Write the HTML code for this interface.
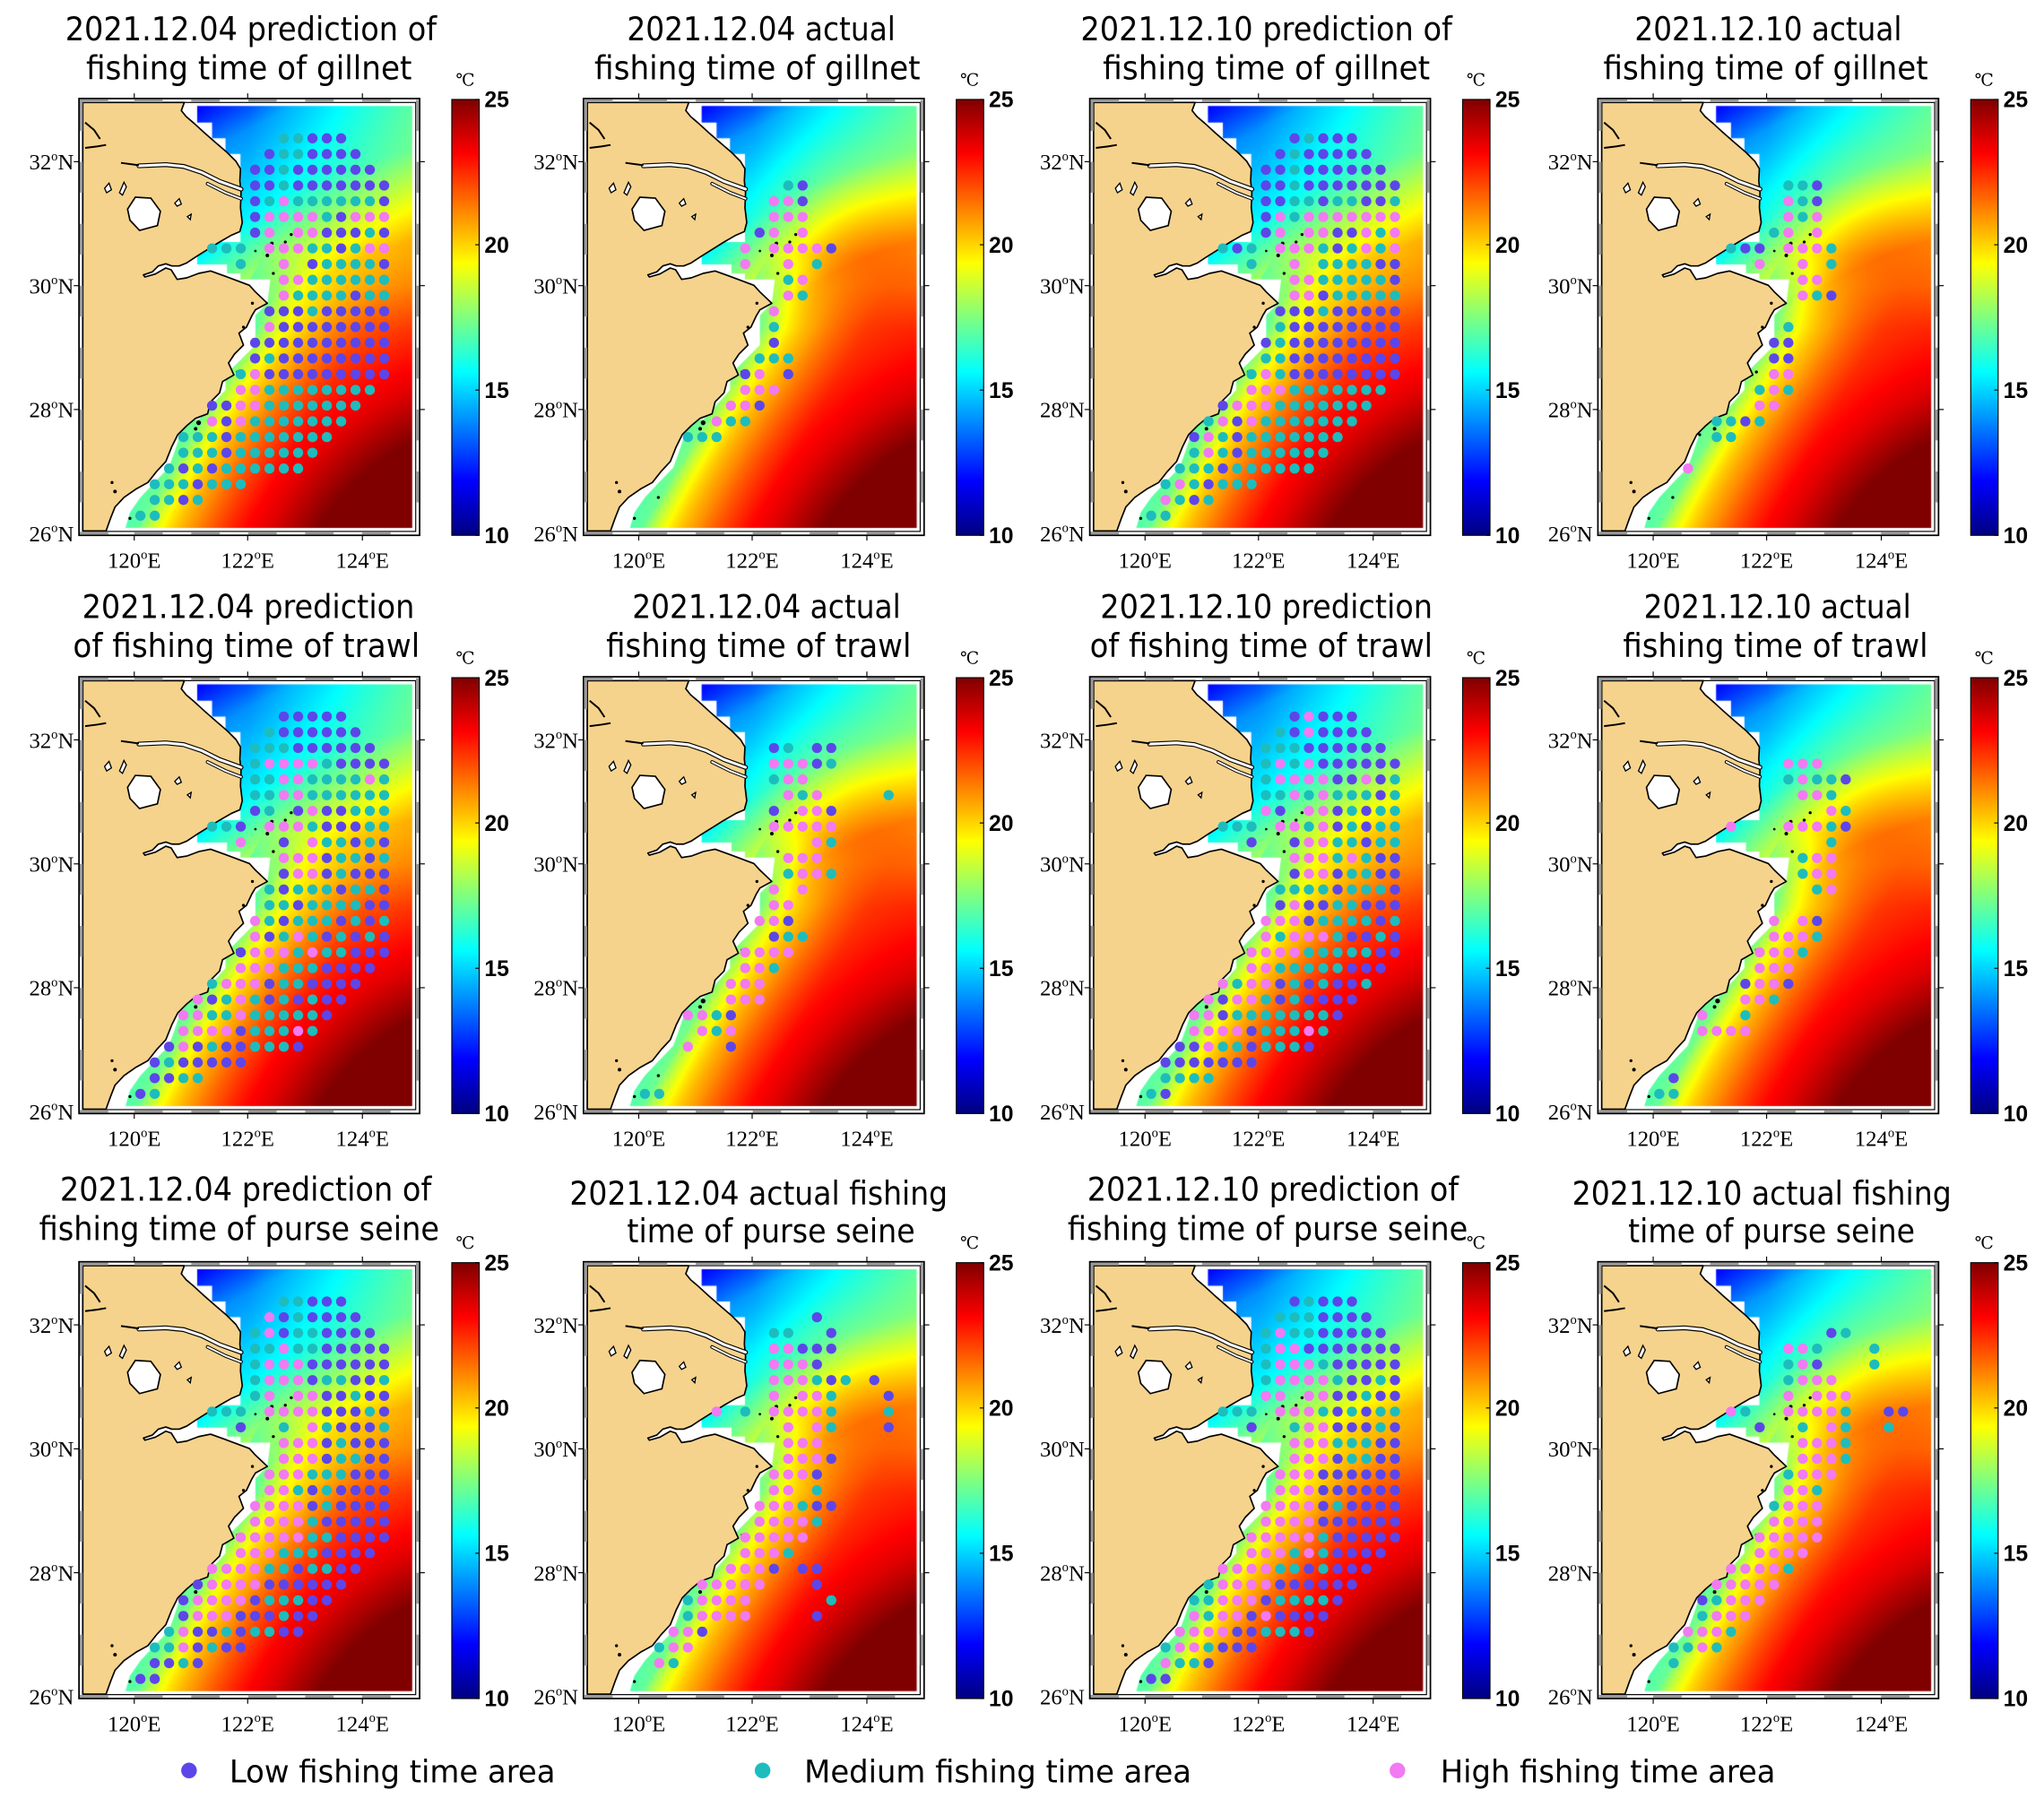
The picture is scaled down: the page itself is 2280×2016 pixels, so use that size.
<!DOCTYPE html>
<html><head><meta charset="utf-8">
<style>
html,body{margin:0;padding:0;background:#fff;width:2280px;height:2016px;overflow:hidden}
#c{position:absolute;left:0;top:0;width:2280px;height:2016px}
#s{position:absolute;left:0;top:0}
</style></head>
<body>
<canvas id="c" width="2280" height="2016"></canvas>
<svg id="s" width="2280" height="2016" viewBox="0 0 1568 1386" preserveAspectRatio="none" xmlns="http://www.w3.org/2000/svg">
<defs>
<linearGradient id="jet" x1="0" y1="1" x2="0" y2="0">
<stop offset="0" stop-color="#000080"/>
<stop offset="0.125" stop-color="#0000ff"/>
<stop offset="0.375" stop-color="#00ffff"/>
<stop offset="0.625" stop-color="#ffff00"/>
<stop offset="0.875" stop-color="#ff0000"/>
<stop offset="1" stop-color="#800000"/>
</linearGradient>
<g id="land">
<path fill="#f6d38c" stroke="#000" stroke-width="5" stroke-linejoin="round" d="M22,28 L362,28 L352,55 L368,75 L395,98 L430,130 L470,165 L505,195 L535,225 L550,250 L548,290 L552,330 L550,380 L556,430 L548,460 L520,472 L480,495 L440,520 L400,545 L370,565 L345,575 L320,575 L300,568 L275,575 L255,595 L225,605 L230,612 L265,602 L300,582 L318,588 L338,620 L370,615 L410,600 L450,592 L500,610 L540,625 L580,640 L600,662 L640,700 L600,722 L588,742 L570,780 L545,800 L560,840 L530,870 L510,900 L528,940 L490,962 L480,1000 L450,1030 L440,1070 L400,1085 L370,1110 L340,1140 L320,1180 L300,1230 L270,1262 L240,1300 L200,1322 L160,1350 L130,1382 L115,1420 L100,1462 L22,1462 Z"/>
<path fill="none" stroke="#000" stroke-width="16" stroke-linecap="round" d="M552,318 L480,292 L420,262 L360,242 L300,236 L210,240"/>
<path fill="none" stroke="#fff" stroke-width="9" stroke-linecap="round" d="M552,318 L480,292 L420,262 L360,242 L300,236 L210,240"/>
<path fill="none" stroke="#000" stroke-width="12" stroke-linecap="round" d="M552,350 L500,330 L440,300"/>
<path fill="none" stroke="#fff" stroke-width="6" stroke-linecap="round" d="M552,350 L500,330 L440,300"/>
<path fill="#fff" stroke="#000" stroke-width="5" d="M172,385 L198,345 L250,348 L282,392 L272,440 L212,456 L180,422 Z"/>
<path fill="#fff" stroke="#000" stroke-width="4" d="M95,315 L110,298 L118,320 L102,330 Z M145,330 L160,295 L168,310 L155,338 Z M330,365 L345,350 L352,368 L338,375 Z M372,410 L385,402 L382,420 Z"/>
<path fill="none" stroke="#000" stroke-width="6" d="M100,170 L70,175 L30,180 M30,95 L60,120 L80,150 M210,238 L150,230"/>
<g fill="#000">
<circle cx="655" cy="500" r="6"/><circle cx="700" cy="495" r="5"/><circle cx="720" cy="470" r="5"/><circle cx="640" cy="540" r="6"/><circle cx="600" cy="525" r="4"/><circle cx="700" cy="610" r="4"/><circle cx="660" cy="600" r="5"/><circle cx="590" cy="700" r="5"/><circle cx="560" cy="780" r="5"/><circle cx="540" cy="930" r="5"/><circle cx="410" cy="1100" r="8"/><circle cx="400" cy="1120" r="6"/><circle cx="350" cy="1140" r="5"/><circle cx="260" cy="1350" r="5"/><circle cx="180" cy="1420" r="5"/><circle cx="130" cy="1330" r="6"/><circle cx="120" cy="1300" r="5"/>
</g>
</g>
</defs>
<g id="panels"></g>
<g font-family="'DejaVu Sans','Liberation Sans',sans-serif" font-size="25" fill="#000">
<text x="50" y="31" textLength="285" lengthAdjust="spacingAndGlyphs">2021.12.04 prediction of</text>
<text x="66" y="61" textLength="250" lengthAdjust="spacingAndGlyphs">fishing time of gillnet</text>
<text x="481" y="31" textLength="206" lengthAdjust="spacingAndGlyphs">2021.12.04 actual</text>
<text x="456" y="61" textLength="250" lengthAdjust="spacingAndGlyphs">fishing time of gillnet</text>
<text x="829" y="31" textLength="285" lengthAdjust="spacingAndGlyphs">2021.12.10 prediction of</text>
<text x="846" y="61" textLength="251" lengthAdjust="spacingAndGlyphs">fishing time of gillnet</text>
<text x="1254" y="31" textLength="205" lengthAdjust="spacingAndGlyphs">2021.12.10 actual</text>
<text x="1230" y="61" textLength="249" lengthAdjust="spacingAndGlyphs">fishing time of gillnet</text>

<text x="63" y="474" textLength="255" lengthAdjust="spacingAndGlyphs">2021.12.04 prediction</text>
<text x="56" y="504" textLength="266" lengthAdjust="spacingAndGlyphs">of fishing time of trawl</text>
<text x="485" y="474" textLength="206" lengthAdjust="spacingAndGlyphs">2021.12.04 actual</text>
<text x="465" y="504" textLength="234" lengthAdjust="spacingAndGlyphs">fishing time of trawl</text>
<text x="844" y="474" textLength="255" lengthAdjust="spacingAndGlyphs">2021.12.10 prediction</text>
<text x="836" y="504" textLength="263" lengthAdjust="spacingAndGlyphs">of fishing time of trawl</text>
<text x="1261" y="474" textLength="205" lengthAdjust="spacingAndGlyphs">2021.12.10 actual</text>
<text x="1245" y="504" textLength="234" lengthAdjust="spacingAndGlyphs">fishing time of trawl</text>

<text x="46" y="921" textLength="285" lengthAdjust="spacingAndGlyphs">2021.12.04 prediction of</text>
<text x="30" y="951" textLength="307" lengthAdjust="spacingAndGlyphs">fishing time of purse seine</text>
<text x="437" y="924" textLength="290" lengthAdjust="spacingAndGlyphs">2021.12.04 actual fishing</text>
<text x="481" y="953" textLength="221" lengthAdjust="spacingAndGlyphs">time of purse seine</text>
<text x="834" y="921" textLength="285" lengthAdjust="spacingAndGlyphs">2021.12.10 prediction of</text>
<text x="819" y="951" textLength="307" lengthAdjust="spacingAndGlyphs">fishing time of purse seine</text>
<text x="1206" y="924" textLength="291" lengthAdjust="spacingAndGlyphs">2021.12.10 actual fishing</text>
<text x="1249" y="953" textLength="220" lengthAdjust="spacingAndGlyphs">time of purse seine</text>
</g>
<g font-family="'DejaVu Sans','Liberation Sans',sans-serif" font-size="24" fill="#000">
<circle cx="145" cy="1358" r="6" fill="#5c46ea"/>
<text x="176" y="1367" textLength="250" lengthAdjust="spacingAndGlyphs">Low fishing time area</text>
<circle cx="585" cy="1358" r="6" fill="#1dbdbd"/>
<text x="617" y="1367" textLength="297" lengthAdjust="spacingAndGlyphs">Medium fishing time area</text>
<circle cx="1072" cy="1358" r="6" fill="#f27af2"/>
<text x="1105" y="1367" textLength="257" lengthAdjust="spacingAndGlyphs">High fishing time area</text>
</g>
</svg>
<script>
(function(){
const FX=[60.6,447.6,836,1225.8], FY=[75.6,519.1,967.8];
const S=0.22915, OX=-2.16, OY=-3.4;
const FW=261.3, FH=335;
const dataPoly=[[405,40],[1125,40],[1125,1452],[165,1452],[180,1400],[215,1350],[262,1300],[310,1250],[330,1195],[365,1090],[410,1090],[455,1040],[500,990],[500,940],[550,890],[600,840],[600,740],[640,700],[650,620],[550,620],[550,600],[505,600],[505,570],[405,570],[405,495],[550,495],[550,200],[500,200],[500,148],[455,148],[455,95],[405,95]];
const D=[
{rows:["..........TTPPP",".........PTTPPPP","........PPTPPPPPP","........PPTPPPPPPP","........PTKTTTTTTP","........PKKKKTPKKK","........PK.KKPPPTP",".....TTT.KKKTTPTKK",".......T..K.PTTTTP","..........KKTTTTTT","..........KTTTTPTT",".........PPPTPPPPP",".........KPPPPPPPP","........PPPPPPPPPP","........PTPPPPPPPP",".......TKPPPPPPPPP",".......KKTTTTTTTT",".....PPKKTTTTTTT",".....KPKTTTTTTT","...TTTPTTTTTTT","...TTTPTTTTTT","..TPTPTTTTTT",".TTTPTTT",".TTPT","TT"]},
{rows:["","","","..........TP",".........KKP",".........KKK","........PK.K",".......K.KKKKP",".......K..K.T","..........TK","..........KT",".........K",".........T",".........P","........TTT",".......PK.P",".......KKK","......KKP",".....KTT","...TTT"]},
{rows:["..........PTPPP",".........PTPPPPP","........PPTPPPPPP","........PPTPPPPPPP","........PPTTPTTPPT","........PKTKKKKKKK","........PK.KKPPKTK",".....TPT.KKKTPTKTK",".......T..K.TTTTPP","..........KKTTTTTP","..........KKPTTTTT",".........PPPTPPPPP",".........TPPPPPPPP","........PTPPPPPPPP","........TTPPPPPPPP",".......TKTPPPPPPPP",".......KKKTTTTTTT",".....PKKKTTTTTTT","....TKPKTTTTTTT","...PKTPTTTTTTT","...TKTPTTTTTT","..TTTPTTTTTT",".TKTPTTT",".KTPT","TT"]},
{rows:["","","",".........TTP",".........KTP",".........KTK","........TK.K",".....TPP.KKKT",".......K..K.T","..........KK","..........KTP","",".........T","........PP","........PP","........KK",".......TKT",".......KK","....TTPT","....TT","","..K"]},
{rows:["..........PPPPP",".........TPPPPPP","........TTTPPPPPP","........TKKKKTPPPP","........TTKKTTTTKT","........TTKKTTTTTT","........PT.PKPPTTT",".....TTP.KKKTPPPTT",".......K..P.KTTPTP","..........KKKPTTPT","..........PKKPTPPP",".........TPTTTPTTP",".........TTPTTTTPP","........KTPTTTPTPT","........KPTKTPTPTP",".......PKKKTKTTPPP",".......KKKTTTPPPP",".....TKKKPTTPPPP","....KPTKTPTPTPP","...KKTTKTTTTTP","...KKKKPTTTKT","..PKPTPPTTTP",".PTPPPPP",".PPTT","PT"]},
{rows:["","",".........PT.PP",".........KKKPT",".........TKK","..........KTK....T",".........P.KKP",".........KKKKK","............KT","..........KKK","..........TKKT",".........K.K",".........KK","........KKP",".........PTT",".......KKKK",".......KKT","......KKK","......KKK","...KKTP","....KTK","...K..P","","","TT"]},
{rows:["..........PKPPP",".........TPKPPPP","........TTTPPPPPP","........TKTKPPPPPP","........TKKKKPPKPT","........TTKTKTTTPT","........KP.KKPTPTT",".....TTT.KKTKPTPTT",".......P..PKKTTPTT","..........KKKTKTPP","..........PKKPTTPP",".........TTTTPTTTP",".........PKPPTTPPP","........KKKPTTTTPT","........KTKKKTPPTP",".......KKKKTTTTTPP",".......KKTTTTTPPP",".....KTKKPTPTPPT","....KPKKTPTPPPP","...KKPTTTTTTTP","...KKKKPTTTKT","..PPKTTPTTTP",".PPPPPPP",".TTTT","TP"]},
{rows:["","","",".........KKK",".........TKTTP","..........KKT","............KT",".....K...KKKTP","............T","..........TKK","..........TKK","...........TK","","........K.KP","........KKKT",".......KKKT",".......KKK","......PKKP","......KKT","...K..T","...KKKK","","",".P","TT"]},
{rows:["..........TTPPP",".........KPTPPPP","........TKPTTPPPP","........TTKTTPPPPP","........TKKKPPPPPP","........TKKKPTTPPT","........TK.KKPPTPP",".....TTT.KKKKPPPTP",".......P..T.KTPPPT","..........KKKPTPPP","..........KKKPTTPP",".........KKKTTTPPP",".........KKTPTPPPP","........KKKKPTPPPP","........KKKKTPPPPP",".......KKKKKTTPPPP",".......KKKTTTPPPP",".....KKKKTTPTTPP","....PKKKKPPPPPP","...PKKKKPTTTPP","...PKKKPPPTPP","..TKPPTPTTPP",".TTKPTPP",".PPTP","PP"]},
{rows:["","............P",".........TT..P",".........KKPPP",".........KKKP",".........KKKTPT.P",".........K.KKT...P",".....K.T.KKKKT...T","..........K.KT...P","..........KKK","..........KKKP",".........KKKP",".........KK.T","........KKKTPP","........KKKKT",".......KKKKK",".......KKKT","......KKKP.PP","....KKKKK...P","...TKKKK.....T","...TKKKK....P","..KKP",".TKK",".KT"]},
{rows:["..........PTPPP",".........TTTPPPP","........TKTTPPPPP","........TKKPPPPPPP","........TKKKTPPPPP","........TKKKKTPPTP","........KK.KKPPTPP",".....TTT.KKKTPTPTT",".......P..TKKPPPTP","..........KKKTTTPP","..........KKKPTTPP",".........KKKPPPPPP",".........KKKPPPPPP","........KKKKPTPPPP","........KKKKPPPPPP",".......KKKKKTPPPPP",".......KKKTKTPPPP",".....KKKKTTPTPPP","....TKKKKPPPPPP","...TTKKKPTTTTP","...KTKKPKPPPP","..KKKKPPTTTP",".TKKTPPP",".KTTP","PP"]},
{rows:["","","............PT",".........KKT...T",".........TKP...T",".........TKKK",".........K.KKK",".....KT..KKKKT..PP",".......P..T.KT..T","..........KKKT","..........KKKT",".........TKKK",".........KKT","........TKKK","........KKKK",".......KKKKK",".......KKKK",".....KKKKT","....KKKKK","...PTKKK","...TKKK","..KKKT",".TTKT",".T"]}
];
const COL={P:'#5c46ea',T:'#1dbdbd',K:'#f27af2'};
const NS='http://www.w3.org/2000/svg';
const root=document.getElementById('panels');
function el(tag,attrs,parent,text){const e=document.createElementNS(NS,tag);for(const k in attrs)e.setAttribute(k,attrs[k]);if(text!==undefined)e.textContent=text;(parent||root).appendChild(e);return e;}

const cv=document.getElementById('c');const ctx=cv.getContext('2d');
const kx=2280/1568, ky=2016/1386;
ctx.fillStyle='#fff';ctx.fillRect(0,0,2280,2016);
function cl(v){return v<0?0:v>1?1:v;}
function T(lon,lat,act){
  const dx=126.5-lon, dy=lat-24;
  const r=Math.sqrt(dx*dx*0.968+dy*dy);
  const R=[3.5,4.57,6.9,8.35,9.6,10.3,12], V=[25,23,20,15.5,14,12,11];
  let t;
  if(r<=R[0])t=V[0];else if(r>=R[R.length-1])t=V[V.length-1];
  else{for(let i=0;i<R.length-1;i++){if(r<=R[i+1]){const f=(r-R[i])/(R[i+1]-R[i]);t=V[i]+f*(V[i+1]-V[i]);break;}}}
  t+=2.5*cl((lon-122)/3)*cl((lat-30)/3);
  const d=((lon-120)*3.6-(lat-26)*2.3)/4.27;
  const fade=1-cl((lat-29.3)/1.2);
  if(d>-0.5) t-=3.2*Math.exp(-Math.max(d,0)/0.45)*fade;
  t+=0.6*cl((d-0.8)/0.8)*fade;
  if(act)t+=1.5*Math.exp(-((lon-123.5)*(lon-123.5)/2.5+(lat-30.8)*(lat-30.8)/2));
  return t;
}
function jet(T){const t=cl((T-10)/15);return [cl(1.5-Math.abs(4*t-3)),cl(1.5-Math.abs(4*t-2)),cl(1.5-Math.abs(4*t-1))];}
for(let ri=0;ri<3;ri++)for(let ci=0;ci<4;ci++){
  const fx=FX[ci], fy=FY[ri], act=(ci%2==1);
  const w=Math.ceil(FW*kx), h=Math.ceil(FH*ky);
  const off=document.createElement('canvas');off.width=w;off.height=h;
  const oc=off.getContext('2d');const img=oc.createImageData(w,h);
  for(let py=0;py<h;py++){const yr=(py+0.5)/ky;const lat=26+(333.5-yr)/47.5;
    for(let px=0;px<w;px++){const xr=(px+0.5)/kx;const lon=119+(xr+1.3)/43.7;
      const c=jet(T(lon,lat,act));const i=(py*w+px)*4;
      img.data[i]=c[0]*255;img.data[i+1]=c[1]*255;img.data[i+2]=c[2]*255;img.data[i+3]=255;}}
  oc.putImageData(img,0,0);
  ctx.save();
  ctx.beginPath();
  dataPoly.forEach((p,i)=>{const x=(fx+OX+p[0]*S)*kx, y=(fy+OY+p[1]*S)*ky; if(i)ctx.lineTo(x,y);else ctx.moveTo(x,y);});
  ctx.closePath();ctx.clip();
  ctx.drawImage(off,fx*kx,fy*ky);
  ctx.restore();
}

let pi=0;
for(let ri=0;ri<3;ri++)for(let ci=0;ci<4;ci++){
  const fx=FX[ci], fy=FY[ri];
  const g=el('g',{transform:'translate('+fx+','+fy+')'});
  el('use',{href:'#land',transform:'translate('+OX+','+OY+') scale('+S+')'},g);
  el('rect',{x:0,y:0,width:FW,height:FH,fill:'none',stroke:'#000','stroke-width':1.2},g);
  el('rect',{x:3,y:3,width:FW-6,height:FH-6,fill:'none',stroke:'#000','stroke-width':0.8},g);
  for(let k=0;k<12;k++){ if(k%2==0){const x0=-1.3+k*21.85; el('rect',{x:Math.max(0.6,x0),y:0.6,width:21.85,height:2.2,fill:'#999'},g); el('rect',{x:Math.max(0.6,x0),y:FH-2.8,width:21.85,height:2.2,fill:'#999'},g);} }
  for(let k=0;k<14;k++){ if(k%2==1){const y0=333.5-(k+1)*23.75; el('rect',{x:0.6,y:Math.max(0.6,y0),width:2.2,height:23.75,fill:'#999'},g); el('rect',{x:FW-2.8,y:Math.max(0.6,y0),width:2.2,height:23.75,fill:'#999'},g);} }
  [42.4,129.4,217.4].forEach(x=>{el('line',{x1:x,y1:0,x2:x,y2:-4,stroke:'#000','stroke-width':0.8},g);el('line',{x1:x,y1:FH,x2:x,y2:FH+4,stroke:'#000','stroke-width':0.8},g);});
  [48.4,143.5,238.5].forEach(y=>{el('line',{x1:0,y1:y,x2:-4,y2:y,stroke:'#000','stroke-width':0.8},g);el('line',{x1:FW,y1:y,x2:FW+4,y2:y,stroke:'#000','stroke-width':0.8},g);});
  const rows=D[pi].rows;
  rows.forEach((s,r)=>{for(let c=0;c<s.length;c++){const ch=s[c];if(COL[ch])el('circle',{cx:(47.1+11.0*c).toFixed(2),cy:(30.5+12.06*r).toFixed(2),r:3.9,fill:COL[ch]},g);}});
  [[26,'26'],[28,'28'],[30,'30'],[32,'32']].forEach(a=>{
    const y=333.5-(a[0]-26)*47.5+6;
    const t=el('text',{x:-4,y:y,'text-anchor':'end','font-family':"'Liberation Serif',serif",'font-size':17},g);
    el('tspan',{},t,a[1]);el('tspan',{dy:-7,'font-size':10},t,'o');el('tspan',{dy:7},t,'N');
  });
  [[42.4,'120'],[129.4,'122'],[217.4,'124']].forEach(a=>{
    const t=el('text',{x:a[0],y:FH+25,'text-anchor':'middle','font-family':"'Liberation Serif',serif",'font-size':17},g);
    el('tspan',{},t,a[1]);el('tspan',{dy:-7,'font-size':10},t,'o');el('tspan',{dy:7},t,'E');
  });
  const cbx=286, cbw=21;
  el('rect',{x:cbx,y:0.7,width:cbw,height:334.3,fill:'url(#jet)',stroke:'#000','stroke-width':0.8},g);
  [25,20,15,10].forEach(v=>{const y=0.7+(25-v)/15*334.3;
    el('line',{x1:cbx+cbw,y1:y,x2:cbx+cbw-3,y2:y,stroke:'#000','stroke-width':0.8},g);
    el('text',{x:cbx+cbw+4,y:y+6,'font-family':"'Liberation Sans',sans-serif",'font-weight':'bold','font-size':17},g,String(v));});
  el('text',{x:cbx+3,y:-10,'font-family':"'DejaVu Serif','Liberation Serif',serif",'font-size':13},g,'\u2103');
  pi++;
}
})();
</script>
</body></html>
